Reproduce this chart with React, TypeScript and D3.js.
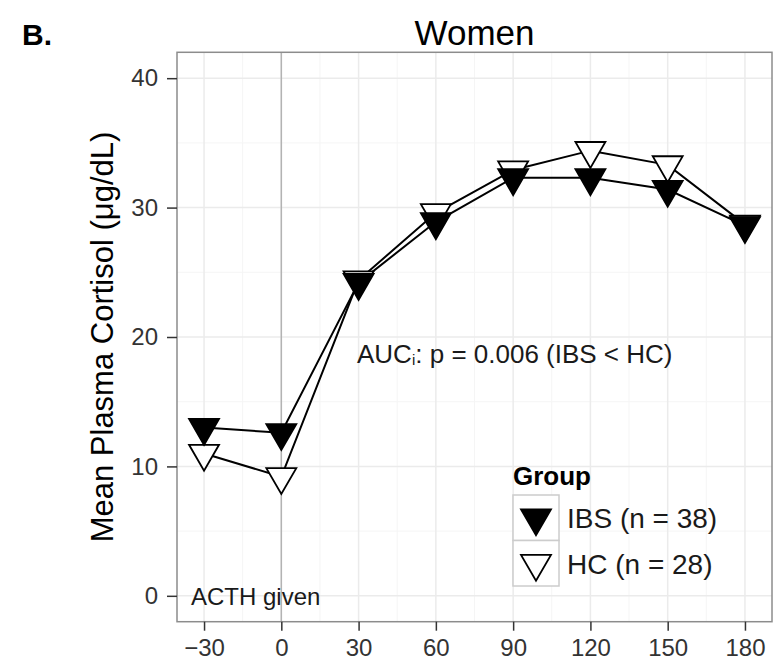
import React, { useEffect, useRef } from "react";
import * as d3 from "d3";

// minutes relative to ACTH injection
const times = [-30, 0, 30, 60, 90, 120, 150, 180];
const ibsValues = [13.0, 12.6, 24.2, 28.9, 32.3, 32.3, 31.4, 28.6];
const hcValues = [11.0, 9.2, 24.4, 29.6, 32.9, 34.4, 33.3, 28.7];
const yTicks = [0, 10, 20, 30, 40];
const groupLabels = ["IBS (n = 38)", "HC (n = 28)"];

const width = 776;
const height = 664;
const panel = { left: 177, right: 772, top: 52.3, bottom: 621.7 };
const font = "'Liberation Sans', Arial, Helvetica, sans-serif";

// down-pointing triangle with its centroid at 0,0 (like R's pch 25)
function triangle(r: number) {
  const xc = (r * Math.sqrt(3)) / 2;
  return `M${-xc},${-r / 2}L${xc},${-r / 2}L0,${r}Z`;
}

function App() {
  const ref = useRef<SVGSVGElement>(null);

  useEffect(() => {
    const svg = d3.select(ref.current);
    svg.selectAll("*").remove();

    const x = d3.scaleLinear().domain([-40.5, 190.5]).range([panel.left, panel.right]);
    const y = d3.scaleLinear().domain([-2, 42]).range([panel.bottom, panel.top]);

    const xMinor = d3.range(-15, 190, 30);
    const yMinor = [5, 15, 25, 35];

    const grid = svg.append("g");
    // minor grid
    grid.selectAll(".xm").data(xMinor).enter().append("line")
      .attr("x1", (d) => x(d)).attr("x2", (d) => x(d))
      .attr("y1", panel.top).attr("y2", panel.bottom)
      .attr("stroke", "#f5f5f5").attr("stroke-width", 1);
    grid.selectAll(".ym").data(yMinor).enter().append("line")
      .attr("y1", (d) => y(d)).attr("y2", (d) => y(d))
      .attr("x1", panel.left).attr("x2", panel.right)
      .attr("stroke", "#f5f5f5").attr("stroke-width", 1);
    // major grid
    grid.selectAll(".xM").data(times).enter().append("line")
      .attr("x1", (d) => x(d)).attr("x2", (d) => x(d))
      .attr("y1", panel.top).attr("y2", panel.bottom)
      .attr("stroke", "#ebebeb").attr("stroke-width", 1.5);
    grid.selectAll(".yM").data(yTicks).enter().append("line")
      .attr("y1", (d) => y(d)).attr("y2", (d) => y(d))
      .attr("x1", panel.left).attr("x2", panel.right)
      .attr("stroke", "#ebebeb").attr("stroke-width", 1.5);

    // ACTH injection line
    svg.append("line")
      .attr("x1", x(0)).attr("x2", x(0))
      .attr("y1", panel.top).attr("y2", panel.bottom)
      .attr("stroke", "#b3b3b3").attr("stroke-width", 1.5);

    // panel border
    svg.append("rect")
      .attr("x", panel.left).attr("y", panel.top)
      .attr("width", panel.right - panel.left).attr("height", panel.bottom - panel.top)
      .attr("fill", "none").attr("stroke", "#8c8c8c").attr("stroke-width", 1.5);

    // axes
    const xAxis = svg.append("g")
      .attr("transform", `translate(0, ${panel.bottom})`)
      .call(d3.axisBottom(x).tickValues(times).tickSize(9).tickPadding(8).tickFormat((d) => `${d}`.replace("-", "\u2212")));
    const yAxis = svg.append("g")
      .attr("transform", `translate(${panel.left}, 0)`)
      .call(d3.axisLeft(y).tickValues(yTicks).tickSize(10).tickPadding(9));
    [xAxis, yAxis].forEach((g) => {
      g.select(".domain").remove();
      g.selectAll(".tick line").attr("stroke", "#333").attr("stroke-width", 1.5);
      g.selectAll(".tick text").attr("fill", "#333").attr("font-family", font).attr("font-size", 24);
    });

    // lines
    const line = d3.line<number>().x((d, i) => x(times[i])).y((d) => y(d));
    [ibsValues, hcValues].forEach((vals) => {
      svg.append("path").datum(vals)
        .attr("d", line).attr("fill", "none")
        .attr("stroke", "#000").attr("stroke-width", 2);
    });

    // points: HC first, IBS on top
    const tri = triangle(17.3);
    svg.append("g").selectAll("path").data(hcValues).enter().append("path")
      .attr("d", tri).attr("transform", (d, i) => `translate(${x(times[i])},${y(d)})`)
      .attr("fill", "#fff").attr("stroke", "#000").attr("stroke-width", 1.8);
    svg.append("g").selectAll("path").data(ibsValues).enter().append("path")
      .attr("d", tri).attr("transform", (d, i) => `translate(${x(times[i])},${y(d)})`)
      .attr("fill", "#000").attr("stroke", "#000").attr("stroke-width", 1.8);

    // annotations
    const auc = svg.append("text").attr("x", 357).attr("y", 363)
      .attr("font-family", font).attr("font-size", 26).attr("fill", "#1a1a1a");
    auc.append("tspan").text("AUC");
    auc.append("tspan").attr("font-size", 15).attr("dy", 2).text("i");
    auc.append("tspan").attr("dy", -2).text(": p = 0.006 (IBS < HC)");

    svg.append("text").attr("x", 191).attr("y", 605)
      .attr("font-family", font).attr("font-size", 24).attr("fill", "#1a1a1a")
      .text("ACTH given");

    // legend
    const lg = svg.append("g");
    lg.append("text").attr("x", 513).attr("y", 485)
      .attr("font-family", font).attr("font-size", 26).attr("font-weight", "bold")
      .text("Group");
    groupLabels.forEach((label, i) => {
      const top = 495 + i * 45.5;
      lg.append("rect").attr("x", 513).attr("y", top).attr("width", 46).attr("height", 45.5)
        .attr("fill", "#fff").attr("stroke", "#cccccc").attr("stroke-width", 1.5);
      lg.append("path").attr("d", tri)
        .attr("transform", `translate(536,${top + 23})`)
        .attr("fill", i === 0 ? "#000" : "#fff").attr("stroke", "#000").attr("stroke-width", 1.8);
      lg.append("text").attr("x", 567).attr("y", top + 23 + 10)
        .attr("font-family", font).attr("font-size", 28).attr("fill", "#1a1a1a")
        .text(label);
    });

    // titles
    svg.append("text").attr("x", (panel.left + panel.right) / 2).attr("y", 45)
      .attr("text-anchor", "middle").attr("font-family", font).attr("font-size", 35)
      .text("Women");
    svg.append("text").attr("x", 22).attr("y", 45)
      .attr("font-family", font).attr("font-size", 30).attr("font-weight", "bold")
      .text("B.");
    svg.append("text")
      .attr("transform", `translate(113, ${(panel.top + panel.bottom) / 2}) rotate(-90)`)
      .attr("text-anchor", "middle").attr("font-family", font).attr("font-size", 31)
      .text("Mean Plasma Cortisol (\u03bcg/dL)");
  });

  return (
    <svg ref={ref} width={width} height={height}
      style={{ display: "block", position: "absolute", left: 0, top: 0, background: "#fff" }} />
  );
}

export default App;
